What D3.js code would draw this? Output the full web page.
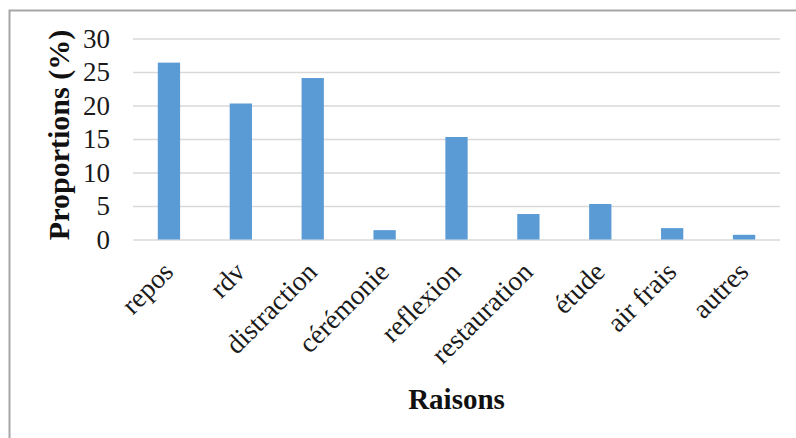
<!DOCTYPE html>
<html><head><meta charset="utf-8">
<script src="https://cdn.jsdelivr.net/npm/d3@7"></script>
<style>html,body{margin:0;padding:0;background:#fff;}svg{display:block;}</style>
</head><body>
<script>
const categories = ["repos","rdv","distraction","cérémonie","reflexion","restauration","étude","air frais","autres"];
const values = [26.4, 20.3, 24.1, 1.4, 15.3, 3.8, 5.3, 1.7, 0.7];
const yTicks = [0, 5, 10, 15, 20, 25, 30];
const xTitle = "Raisons";
const yTitle = "Proportions (%)";

const W = 796, H = 438;
const m = {left: 133, right: 16, top: 38.5, bottom: 198.5};
const svg = d3.select("body").append("svg").attr("width", W).attr("height", H);
svg.append("rect").attr("width", W).attr("height", H).attr("fill", "#fff");
svg.append("rect").attr("x", 9.5).attr("y", 10.5).attr("width", W + 20).attr("height", H + 20)
  .attr("fill", "none").attr("stroke", "#a6a6a6").attr("stroke-width", 2);

const x = d3.scaleBand().domain(categories).range([m.left, W - m.right]).paddingInner(0.69).paddingOuter(0.345);
const y = d3.scaleLinear().domain([0, 30]).range([H - m.bottom, m.top]);

const gy = svg.append("g").attr("transform", `translate(${m.left},0)`)
  .call(d3.axisLeft(y).tickValues(yTicks).tickSize(-(W - m.right - m.left)).tickPadding(23));
gy.select(".domain").remove();
gy.selectAll(".tick line").attr("stroke", "#d9d9d9").attr("stroke-width", 1.5);
gy.selectAll(".tick text").attr("font-family", "'Liberation Serif', serif").attr("font-size", 27).attr("fill", "#1a1a1a");

svg.append("g").selectAll("rect").data(categories).join("rect")
  .attr("x", d => x(d)).attr("width", x.bandwidth())
  .attr("y", (d, i) => y(values[i])).attr("height", (d, i) => y(0) - y(values[i]))
  .attr("fill", "#5b9bd5");

const gx = svg.append("g").attr("transform", `translate(0,${y(0)})`)
  .call(d3.axisBottom(x).tickSize(0).tickPadding(0));
gx.select(".domain").remove();
gx.selectAll(".tick text")
  .attr("font-family", "'Liberation Serif', serif").attr("font-size", 27.5).attr("fill", "#1a1a1a")
  .attr("text-anchor", "end").attr("dy", null).attr("y", 0)
  .attr("transform", "translate(6,34) rotate(-45)");

svg.append("text").attr("x", (m.left + W - m.right) / 2).attr("y", 409)
  .attr("text-anchor", "middle").attr("font-family", "'Liberation Serif', serif")
  .attr("font-weight", "bold").attr("font-size", 29).attr("fill", "#111").text(xTitle);

svg.append("text").attr("transform", `translate(69,135) rotate(-90)`)
  .attr("text-anchor", "middle").attr("font-family", "'Liberation Serif', serif")
  .attr("font-weight", "bold").attr("font-size", 30).attr("fill", "#111").text(yTitle);
</script>
</body></html>
